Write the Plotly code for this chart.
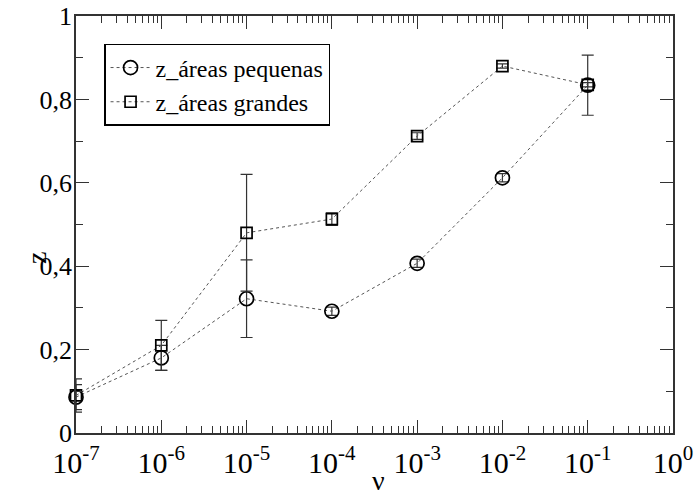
import plotly.graph_objects as go

nu = [1e-7, 1e-6, 1e-5, 1e-4, 1e-3, 1e-2, 1e-1]
z_pequenas = [0.086, 0.18, 0.322, 0.292, 0.407, 0.612, 0.834]
err_pequenas = [0.03, 0.03, 0.093, 0.01, 0.01, 0.01, 0.072]
z_grandes = [0.09, 0.21, 0.48, 0.513, 0.712, 0.88, 0.835]
err_grandes = [0.04, 0.06, 0.14, 0.015, 0.008, 0.005, 0.005]

x_exponents = [-7, -6, -5, -4, -3, -2, -1, 0]
x_tickvals = [10.0 ** e for e in x_exponents]
x_ticktext = ["10<sup>%d</sup>" % e for e in x_exponents]
x_minor = [k * 10.0 ** e for e in x_exponents[:-1] for k in range(2, 10)]
y_tickvals = [0, 0.2, 0.4, 0.6, 0.8, 1.0]
y_ticktext = ["0", "0,2", "0,4", "0,6", "0,8", "1"]

FONT = "'Liberation Serif', 'Times New Roman', Times, serif"
AX = "#333333"

fig = go.Figure()
fig.add_trace(go.Scatter(
    x=nu, y=z_pequenas, name="z_áreas pequenas", mode="lines+markers",
    line=dict(color="#555555", width=1, dash="dot"),
    marker=dict(symbol="circle-open", size=14, color="black", line=dict(width=1.7, color="black")),
    error_y=dict(type="data", array=err_pequenas, color=AX, thickness=1.2, width=6),
    cliponaxis=False,
))
fig.add_trace(go.Scatter(
    x=nu, y=z_grandes, name="z_áreas grandes", mode="lines+markers",
    line=dict(color="#555555", width=1, dash="dot"),
    marker=dict(symbol="square-open", size=11, color="black", line=dict(width=1.7, color="black")),
    error_y=dict(type="data", array=err_grandes, color=AX, thickness=1.2, width=6),
    cliponaxis=False,
))
# invisible trace to carry the minor-tick x axis
fig.add_trace(go.Scatter(
    x=[x_tickvals[0], x_tickvals[-1]], y=[None, None], xaxis="x2", yaxis="y",
    mode="markers", showlegend=False, hoverinfo="skip",
))

fig.update_layout(
    width=694, height=495,
    margin=dict(l=76, r=21, t=16, b=62, autoexpand=False),
    paper_bgcolor="white", plot_bgcolor="white",
    font=dict(family=FONT, color="black"),
    showlegend=True,
    legend=dict(
        x=0.047, y=0.933, xanchor="left", yanchor="top",
        bgcolor="white", bordercolor="black", borderwidth=1.5,
        font=dict(family=FONT, size=24, color="black"),
        tracegroupgap=0, itemwidth=40,
    ),
    xaxis=dict(
        type="log", range=[-7, 0], automargin=False,
        tickmode="array", tickvals=x_tickvals, ticktext=x_ticktext,
        ticks="inside", ticklen=13, tickwidth=1.2, tickcolor=AX,
        showline=True, linecolor=AX, linewidth=1.5, mirror="ticks",
        showgrid=False, zeroline=False, ticklabelstandoff=2,
        tickfont=dict(family=FONT, size=30, color="black"),
    ),
    xaxis2=dict(
        type="log", range=[-7, 0], automargin=False, overlaying="x", side="bottom",
        anchor="y", matches="x",
        tickmode="array", tickvals=x_minor, ticktext=[""] * len(x_minor),
        ticks="inside", ticklen=7, tickwidth=1, tickcolor=AX,
        showline=False, mirror="ticks", showgrid=False, zeroline=False,
    ),
    yaxis=dict(
        range=[0, 1], automargin=False,
        tickvals=y_tickvals, ticktext=y_ticktext,
        ticks="inside", ticklen=13, tickwidth=1.2, tickcolor=AX,
        minor=dict(dtick=0.1, ticks="inside", ticklen=7, tickwidth=1, tickcolor=AX, showgrid=False),
        showline=True, linecolor=AX, linewidth=1.5, mirror="ticks",
        showgrid=False, zeroline=False, ticklabelstandoff=-3,
        tickfont=dict(family=FONT, size=26, color="black"),
    ),
    annotations=[
        dict(text="z", xref="paper", yref="paper", x=-0.065, y=0.42,
             showarrow=False, textangle=-90, xanchor="center", yanchor="middle",
             font=dict(family=FONT, size=28, color="black")),
        dict(text="ν", xref="paper", yref="paper", x=0.507, y=-0.115,
             showarrow=False, xanchor="center", yanchor="middle",
             font=dict(family=FONT, size=28, color="black")),
    ],
)

fig.write_html("out.html")
